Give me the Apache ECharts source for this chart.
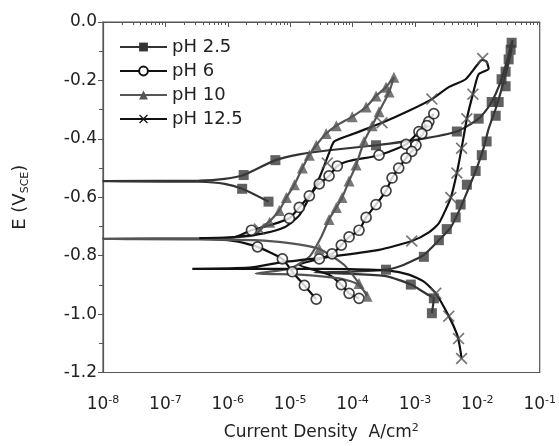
<!DOCTYPE html>
<html>
<head>
<meta charset="utf-8">
<script src="https://cdn.jsdelivr.net/npm/echarts@6/dist/echarts.min.js"></script>
<style>
  html, body { margin: 0; padding: 0; background: #fff; }
  #chart { width: 559px; height: 446px; }
</style>
</head>
<body>
<div id="chart"></div>
<script>
// legend names
var seriesNames = ['pH 2.5', 'pH 6', 'pH 10', 'pH 12.5'];
// axis ticks
var xTickExp = [-8, -7, -6, -5, -4, -3, -2, -1];
var yTicks = [0, -0.2, -0.4, -0.6, -0.8, -1.0, -1.2];

// [current density A/cm2, potential V] along each scan
var ph25Curve = [
  [4.5e-6, -0.615], [1.7e-6, -0.571], [8.9e-7, -0.554], [3.5e-7, -0.547], [1e-8, -0.545],
  [3.5e-7, -0.543], [8.9e-7, -0.537], [1.8e-6, -0.524], [5.8e-6, -0.473], [1.4e-5, -0.453],
  [4.2e-5, -0.439], [2.38e-4, -0.422], [1.16e-3, -0.402], [4.7e-3, -0.375], [1.05e-2, -0.331],
  [1.64e-2, -0.280], [2.45e-2, -0.196], [3.18e-2, -0.111], [3.67e-2, -0.061],
  [3.42e-2, -0.111], [2.84e-2, -0.179], [2.45e-2, -0.230], [1.97e-2, -0.297], [1.52e-2, -0.365],
  [1.26e-2, -0.432], [9.8e-3, -0.500], [7.3e-3, -0.568], [5.4e-3, -0.635], [3.76e-3, -0.703],
  [2.42e-3, -0.747], [1.39e-3, -0.797], [6.7e-4, -0.831], [3.44e-4, -0.848], [8.8e-5, -0.855],
  [2.44e-5, -0.857], [8.8e-5, -0.862], [3.44e-4, -0.870], [8.6e-4, -0.899], [1.56e-3, -0.932],
  [2.01e-3, -0.946], [1.87e-3, -0.997]
];
var ph25Marks = [
  [4.5e-6, -0.615], [1.7e-6, -0.571], [1.8e-6, -0.524], [5.8e-6, -0.473], [2.38e-4, -0.422],
  [4.7e-3, -0.375], [1.05e-2, -0.331], [1.7e-2, -0.274], [2.45e-2, -0.196], [3.18e-2, -0.128],
  [3.55e-2, -0.071], [3.42e-2, -0.095], [2.84e-2, -0.170], [2.84e-2, -0.220], [2.2e-2, -0.274],
  [1.97e-2, -0.321], [1.41e-2, -0.409], [1.18e-2, -0.456], [9.4e-3, -0.510], [6.8e-3, -0.557],
  [5.4e-3, -0.625], [4.5e-3, -0.669], [3.24e-3, -0.709], [2.42e-3, -0.747], [1.39e-3, -0.804],
  [3.44e-4, -0.848], [8.6e-4, -0.899], [2.01e-3, -0.946], [1.87e-3, -0.997]
];

var ph6Curve = [
  [2.62e-5, -0.949], [1.69e-5, -0.902], [1.08e-5, -0.855], [7.5e-6, -0.811], [3.0e-6, -0.770],
  [1.3e-6, -0.750], [3.5e-7, -0.743], [1e-8, -0.742], [3.5e-7, -0.741], [1.3e-6, -0.736],
  [2.4e-6, -0.713], [4.7e-6, -0.696], [9.7e-6, -0.672], [1.4e-5, -0.635], [2.03e-5, -0.595],
  [2.93e-5, -0.554], [4.2e-5, -0.527], [5.7e-5, -0.493], [8.8e-5, -0.476], [2.66e-4, -0.456],
  [7.2e-4, -0.419], [1.16e-3, -0.375], [1.67e-3, -0.341], [2.01e-3, -0.314],
  [1.87e-3, -0.324], [1.56e-3, -0.355], [1.29e-3, -0.382], [1.04e-3, -0.422], [8.9e-4, -0.443],
  [7.2e-4, -0.466], [5.5e-4, -0.500], [4.3e-4, -0.534], [3.44e-4, -0.578], [2.38e-4, -0.625],
  [1.65e-4, -0.669], [1.27e-4, -0.713], [8.8e-5, -0.736], [6.6e-5, -0.764], [4.7e-5, -0.794],
  [2.93e-5, -0.811], [1.4e-5, -0.831], [4.2e-5, -0.865], [6.6e-5, -0.899], [8.8e-5, -0.929],
  [1.27e-4, -0.946]
];
var ph6Marks = [
  [2.62e-5, -0.949], [1.69e-5, -0.902], [1.08e-5, -0.855], [7.5e-6, -0.811], [3.0e-6, -0.770],
  [2.4e-6, -0.713], [9.7e-6, -0.672], [1.4e-5, -0.635], [2.03e-5, -0.595], [2.93e-5, -0.554],
  [4.2e-5, -0.527], [5.7e-5, -0.493], [2.66e-4, -0.456], [7.2e-4, -0.419], [1.16e-3, -0.375],
  [1.67e-3, -0.341], [2.01e-3, -0.314], [1.56e-3, -0.355], [1.29e-3, -0.382], [1.04e-3, -0.422],
  [8.9e-4, -0.443], [7.2e-4, -0.466], [5.5e-4, -0.500], [4.3e-4, -0.534], [3.44e-4, -0.578],
  [2.38e-4, -0.625], [1.65e-4, -0.669], [1.27e-4, -0.713], [8.8e-5, -0.736], [6.6e-5, -0.764],
  [4.7e-5, -0.794], [2.93e-5, -0.811], [6.6e-5, -0.899], [8.8e-5, -0.929], [1.27e-4, -0.946]
];

var ph10Curve = [
  [1.71e-4, -0.939], [1.27e-4, -0.895], [7.3e-5, -0.831], [2.93e-5, -0.777], [9.7e-6, -0.757],
  [2.7e-6, -0.747], [3.5e-7, -0.744], [1e-8, -0.743], [3.5e-7, -0.742], [2.7e-6, -0.730],
  [3.9e-6, -0.696], [5.0e-6, -0.676], [6.7e-6, -0.645], [8.7e-6, -0.601], [1.17e-5, -0.557],
  [1.57e-5, -0.500], [2.03e-5, -0.456], [2.62e-5, -0.422], [3.78e-5, -0.382], [5.5e-5, -0.355],
  [9.9e-5, -0.324], [1.65e-4, -0.291], [2.38e-4, -0.253], [3.44e-4, -0.223], [4.6e-4, -0.189],
  [3.85e-4, -0.240], [2.66e-4, -0.307], [2.06e-4, -0.355], [1.53e-4, -0.409], [1.14e-4, -0.490],
  [8.8e-5, -0.544], [6.8e-5, -0.601], [5.5e-5, -0.635], [4.2e-5, -0.676], [3.15e-5, -0.736],
  [2.03e-5, -0.804], [9.7e-6, -0.845], [2.8e-6, -0.861], [1.4e-5, -0.865], [6.1e-5, -0.878],
  [1.14e-4, -0.895], [1.71e-4, -0.932]
];
var ph10Marks = [
  [1.71e-4, -0.939], [1.27e-4, -0.895], [2.93e-5, -0.777], [4.7e-6, -0.686], [6.7e-6, -0.645],
  [8.7e-6, -0.601], [1.17e-5, -0.557], [1.57e-5, -0.500], [2.03e-5, -0.456], [2.62e-5, -0.422],
  [3.78e-5, -0.382], [5.5e-5, -0.355], [9.9e-5, -0.324], [1.65e-4, -0.291], [2.38e-4, -0.253],
  [3.44e-4, -0.223], [4.6e-4, -0.189], [3.85e-4, -0.240], [2.66e-4, -0.307], [2.06e-4, -0.355],
  [1.53e-4, -0.409], [1.14e-4, -0.490], [8.8e-5, -0.544], [6.8e-5, -0.601], [5.5e-5, -0.635],
  [4.2e-5, -0.676]
];

var ph125Curve = [
  [5.6e-3, -1.152], [5.2e-3, -1.108], [4.7e-3, -1.068], [3.49e-3, -1.007], [2.16e-3, -0.929],
  [1.39e-3, -0.889], [8.0e-4, -0.865], [3.85e-4, -0.851], [8.8e-5, -0.846], [1.4e-5, -0.845],
  [2.2e-6, -0.845], [2.7e-7, -0.845], [2.2e-6, -0.841], [6.7e-6, -0.824], [4.2e-5, -0.804],
  [2.66e-4, -0.780], [8.9e-4, -0.750], [1.67e-3, -0.720], [2.42e-3, -0.689], [3.76e-3, -0.601],
  [4.7e-3, -0.517], [5.6e-3, -0.432], [6.8e-3, -0.331], [8.5e-3, -0.247], [1.05e-2, -0.179],
  [1.52e-2, -0.160], [1.4e-2, -0.135], [1.2e-2, -0.130], [9.8e-3, -0.149], [6.5e-3, -0.196],
  [3.49e-3, -0.223], [1.87e-3, -0.264], [8.0e-4, -0.304], [2.97e-4, -0.345], [1.06e-4, -0.382],
  [5.1e-5, -0.409], [4.2e-5, -0.449], [2.93e-5, -0.534], [2.03e-5, -0.601], [1.4e-5, -0.662],
  [8.1e-6, -0.703], [3.9e-6, -0.723], [1.3e-6, -0.736], [3.5e-7, -0.740]
];
var ph125Marks = [
  [5.6e-3, -1.152], [5.0e-3, -1.084], [3.49e-3, -1.007], [2.16e-3, -0.929], [8.9e-4, -0.750],
  [3.76e-3, -0.601], [4.7e-3, -0.517], [5.6e-3, -0.432], [6.8e-3, -0.331], [8.5e-3, -0.247],
  [1.22e-2, -0.125], [1.87e-3, -0.264], [2.97e-4, -0.345], [3.93e-5, -0.483], [3.2e-6, -0.709]
];

var curves = [ph25Curve, ph6Curve, ph10Curve, ph125Curve];
var marks = [ph25Marks, ph6Marks, ph10Marks, ph125Marks];

var crossPath = 'path://M0,1L1,0L5,4L9,0L10,1L6,5L10,9L9,10L5,6L1,10L0,9L4,5Z';
var lineColors = ['#333', '#111', '#555', '#111'];
var symbols = ['rect', 'emptyCircle', 'triangle', crossPath];
var markStyles = [
  { symbol: 'rect', size: 10, itemStyle: { color: '#3a3a3a' } },
  { symbol: 'circle', size: 10, itemStyle: { color: '#fff', borderColor: '#111', borderWidth: 1.7 } },
  { symbol: 'triangle', size: 11, itemStyle: { color: '#555' } },
  { symbol: crossPath, size: 12, itemStyle: { color: '#555' } }
];

var font = 'DejaVu Sans';
var chart = echarts.init(document.getElementById('chart'));

var series = [];
for (var i = 0; i < seriesNames.length; i++) {
  series.push({
    name: seriesNames[i],
    type: 'line',
    data: curves[i],
    symbol: symbols[i],
    symbolSize: 9,
    showSymbol: false,
    smooth: 0.2,
    lineStyle: { color: lineColors[i], width: 2.2 },
    itemStyle: { color: lineColors[i] },
    z: 2
  });
}
for (var j = 0; j < seriesNames.length; j++) {
  series.push({
    name: seriesNames[j] + ' marks',
    type: 'scatter',
    data: marks[j],
    symbol: markStyles[j].symbol,
    symbolSize: markStyles[j].size,
    itemStyle: markStyles[j].itemStyle,
    z: 3
  });
}

chart.setOption({
  animation: false,
  backgroundColor: '#fff',
  grid: {
    left: 103, top: 22, right: 18, bottom: 69,
    show: true, borderColor: '#555', borderWidth: 1.2, backgroundColor: 'transparent'
  },
  legend: {
    data: seriesNames,
    orient: 'vertical',
    left: 119,
    top: 38,
    itemWidth: 47,
    itemHeight: 11,
    itemGap: 6,
    padding: 0,
    textStyle: { fontFamily: font, fontSize: 18, color: '#222' }
  },
  xAxis: {
    type: 'log',
    logBase: 10,
    min: Math.pow(10, xTickExp[0]),
    max: Math.pow(10, xTickExp[xTickExp.length - 1]),
    splitNumber: 7,
    name: '{a|Current Density  A/cm}{s|2}',
    nameLocation: 'middle',
    nameGap: 50,
    nameTextStyle: {
      rich: {
        a: { fontFamily: font, fontSize: 17, color: '#222', lineHeight: 20 },
        s: { fontFamily: font, fontSize: 11, color: '#222', lineHeight: 20, verticalAlign: 'top' }
      }
    },
    axisLine: { show: true, lineStyle: { color: '#555', width: 1.2 } },
    axisTick: { show: true, inside: false, length: 5, lineStyle: { color: '#555' } },
    minorTick: { show: true, splitNumber: 9, length: 3, lineStyle: { color: '#555' } },
    splitLine: { show: false },
    axisLabel: {
      margin: 22,
      formatter: function (v) {
        var e = Math.round(Math.log10(v));
        return '{b|10}{s|' + e + '}';
      },
      rich: {
        b: { fontFamily: font, fontSize: 17, color: '#222', lineHeight: 20 },
        s: { fontFamily: font, fontSize: 11, color: '#222', lineHeight: 20, verticalAlign: 'top' }
      }
    }
  },
  yAxis: {
    type: 'value',
    min: yTicks[yTicks.length - 1],
    max: yTicks[0],
    interval: 0.2,
    name: '{a|E (V}{s|SCE}{a|)}',
    nameLocation: 'middle',
    nameGap: 72,
    nameTextStyle: {
      rich: {
        a: { fontFamily: font, fontSize: 18, color: '#222', lineHeight: 22 },
        s: { fontFamily: font, fontSize: 11, color: '#222', lineHeight: 22, verticalAlign: 'bottom' }
      }
    },
    axisLine: { show: true, lineStyle: { color: '#555', width: 1.2 } },
    axisTick: { show: true, inside: false, length: 5, lineStyle: { color: '#555' } },
    minorTick: { show: true, splitNumber: 2, length: 4, lineStyle: { color: '#555' } },
    splitLine: { show: false },
    axisLabel: {
      margin: 6,
      fontFamily: font,
      fontSize: 17,
      color: '#222',
      formatter: function (v) { return v.toFixed(1); }
    }
  },
  series: series
});
</script>
</body>
</html>
